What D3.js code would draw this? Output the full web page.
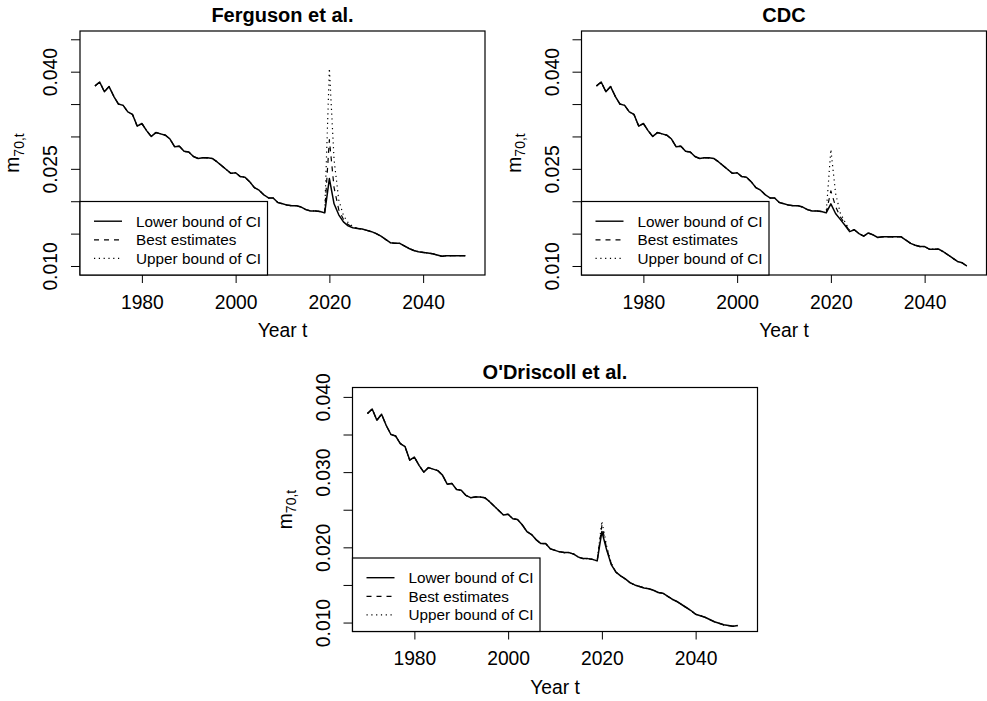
<!DOCTYPE html>
<html>
<head>
<meta charset="utf-8">
<script src="https://cdn.jsdelivr.net/npm/d3@7"></script>
<style>
  html, body { margin: 0; padding: 0; background: #fff; }
  svg { display: block; font-family: "Liberation Sans", Arial, Helvetica, sans-serif; }
</style>
</head>
<body>
<svg id="chart" width="987" height="701"></svg>
<script>
// ---- data -------------------------------------------------------------
const years = d3.range(1970, 2050);

// observed central death rate at age 70, 1970-2019 (shared by all panels)
const observed = [
  0.0378, 0.0384, 0.0369, 0.0377, 0.0362, 0.0350, 0.0348, 0.0338, 0.0334, 0.0316,
  0.0320, 0.0309, 0.0300, 0.0306, 0.0304, 0.0302, 0.0296, 0.0284, 0.0285, 0.0277,
  0.0276, 0.0269, 0.0266, 0.0267, 0.0267, 0.0266, 0.0261, 0.0255, 0.0249, 0.0243,
  0.0244, 0.0238, 0.0237, 0.0230, 0.0221, 0.0217, 0.0210, 0.0205, 0.0205, 0.0198,
  0.0196, 0.0194, 0.0193, 0.0193, 0.0191, 0.0187, 0.0185, 0.0185, 0.0184, 0.0182
];

// projections 2020-2049
const fergusonLower = [
  0.0235, 0.0196, 0.0179, 0.0168, 0.0162, 0.0159, 0.0158, 0.0157, 0.0155, 0.0153,
  0.0150, 0.0146, 0.0141, 0.0136, 0.0135, 0.0135, 0.0131, 0.0127, 0.0124, 0.0122,
  0.0121, 0.0120, 0.0119, 0.0117, 0.0115, 0.0116, 0.0116, 0.0116, 0.0116, 0.0116
];
const fergusonBest = [
  0.0295, 0.0221, 0.0187, 0.0172, 0.0164, 0.0160, 0.0158, 0.0157, 0.0155, 0.0153,
  0.0150, 0.0146, 0.0141, 0.0136, 0.0135, 0.0135, 0.0131, 0.0127, 0.0124, 0.0122,
  0.0121, 0.0120, 0.0119, 0.0117, 0.0115, 0.0116, 0.0116, 0.0116, 0.0116, 0.0116
];
const fergusonUpper = [
  0.0405, 0.0264, 0.0202, 0.0178, 0.0167, 0.0161, 0.0158, 0.0157, 0.0155, 0.0153,
  0.0150, 0.0146, 0.0141, 0.0136, 0.0135, 0.0135, 0.0131, 0.0127, 0.0124, 0.0122,
  0.0121, 0.0120, 0.0119, 0.0117, 0.0115, 0.0116, 0.0116, 0.0116, 0.0116, 0.0116
];

const cdcLower = [
  0.0196, 0.0181, 0.0172, 0.0163, 0.0153, 0.0156, 0.0150, 0.0146, 0.0151, 0.0148,
  0.0144, 0.0145, 0.0145, 0.0145, 0.0145, 0.0145, 0.0140, 0.0135, 0.0132, 0.0130,
  0.0130, 0.0126, 0.0126, 0.0126, 0.0122, 0.0117, 0.0112, 0.0107, 0.0105, 0.0100
];
const cdcBest = [
  0.0216, 0.0192, 0.0176, 0.0165, 0.0154, 0.0156, 0.0150, 0.0146, 0.0151, 0.0148,
  0.0144, 0.0145, 0.0145, 0.0145, 0.0145, 0.0145, 0.0140, 0.0135, 0.0132, 0.0130,
  0.0130, 0.0126, 0.0126, 0.0126, 0.0122, 0.0117, 0.0112, 0.0107, 0.0105, 0.0100
];
const cdcUpper = [
  0.0280, 0.0212, 0.0182, 0.0168, 0.0155, 0.0156, 0.0150, 0.0146, 0.0151, 0.0148,
  0.0144, 0.0145, 0.0145, 0.0145, 0.0145, 0.0145, 0.0140, 0.0135, 0.0132, 0.0130,
  0.0130, 0.0126, 0.0126, 0.0126, 0.0122, 0.0117, 0.0112, 0.0107, 0.0105, 0.0100
];

const odriscollLower = [
  0.0221, 0.0197, 0.0177, 0.0167, 0.0162, 0.0158, 0.0153, 0.0150, 0.0148, 0.0146,
  0.0145, 0.0143, 0.0140, 0.0139, 0.0135, 0.0131, 0.0128, 0.0124, 0.0120, 0.0116,
  0.0111, 0.0109, 0.0107, 0.0104, 0.0101, 0.0099, 0.0097, 0.0096, 0.0095, 0.0096
];
const odriscollBest = [
  0.0229, 0.0199, 0.0178, 0.0167, 0.0162, 0.0158, 0.0153, 0.0150, 0.0148, 0.0146,
  0.0145, 0.0143, 0.0140, 0.0139, 0.0135, 0.0131, 0.0128, 0.0124, 0.0120, 0.0116,
  0.0111, 0.0109, 0.0107, 0.0104, 0.0101, 0.0099, 0.0097, 0.0096, 0.0095, 0.0096
];
const odriscollUpper = [
  0.0235, 0.0202, 0.0179, 0.0167, 0.0162, 0.0158, 0.0153, 0.0150, 0.0148, 0.0146,
  0.0145, 0.0143, 0.0140, 0.0139, 0.0135, 0.0131, 0.0128, 0.0124, 0.0120, 0.0116,
  0.0111, 0.0109, 0.0107, 0.0104, 0.0101, 0.0099, 0.0097, 0.0096, 0.0095, 0.0096
];

const panelTitles = ["Ferguson et al.", "CDC", "O'Driscoll et al."];
const legendLabels = ["Lower bound of CI", "Best estimates", "Upper bound of CI"];
const xTickValues = [1980, 2000, 2020, 2040];
const yTicksTop = [0.010, 0.015, 0.020, 0.025, 0.030, 0.035, 0.040, 0.045];
const yLabelsTop = ["0.010", "0.025", "0.040"];
const yTicksBottom = [0.010, 0.015, 0.020, 0.025, 0.030, 0.035, 0.040];
const yLabelsBottom = ["0.010", "0.020", "0.030", "0.040"];

// ---- layout -----------------------------------------------------------
const W = 405, H = 244;
const xDomain = [1966.8, 2053.2];
const panels = [
  { title: panelTitles[0], series: [fergusonLower, fergusonBest, fergusonUpper],
    left: 80, top: 31, yDomain: [0.00861, 0.04628], ticks: yTicksTop, labels: yLabelsTop },
  { title: panelTitles[1], series: [cdcLower, cdcBest, cdcUpper],
    left: 581.5, top: 31, yDomain: [0.00861, 0.04628], ticks: yTicksTop, labels: yLabelsTop },
  { title: panelTitles[2], series: [odriscollLower, odriscollBest, odriscollUpper],
    left: 352.5, top: 387.5, yDomain: [0.00881, 0.04125], ticks: yTicksBottom, labels: yLabelsBottom }
];
const dashes = [null, "5,5", "1.2,3.6"];
const FONT = "\"Liberation Sans\", Arial, Helvetica, sans-serif";
const AXIS_SIZE = 19.3;

const svg = d3.select("#chart");

panels.forEach(p => {
  const g = svg.append("g").attr("transform", `translate(${p.left},${p.top})`);
  const x = d3.scaleLinear().domain(xDomain).range([0, W]);
  const y = d3.scaleLinear().domain(p.yDomain).range([H, 0]);

  // series: upper (dotted), best (dashed), lower (solid)
  const line = d3.line().x((d, i) => x(years[i])).y(d => y(d));
  [2, 1, 0].forEach(k => {
    const values = observed.concat(p.series[k]);
    g.append("path")
      .datum(values)
      .attr("d", line)
      .attr("fill", "none")
      .attr("stroke", "#000")
      .attr("stroke-width", k === 0 ? 1.5 : 1.2)
      .attr("stroke-linejoin", "round")
      .attr("stroke-dasharray", dashes[k]);
  });

  // x axis
  const xa = g.append("g")
    .attr("transform", `translate(0,${H})`)
    .call(d3.axisBottom(x).tickValues(xTickValues).tickSize(8).tickSizeOuter(0)
      .tickPadding(12).tickFormat(d3.format("d")));
  xa.select(".domain").remove();
  xa.selectAll("line").attr("stroke", "#000");
  xa.selectAll("text").attr("fill", "#000");
  xa.attr("font-size", AXIS_SIZE).attr("font-family", FONT);

  // y axis
  const ya = g.append("g")
    .call(d3.axisLeft(y).tickValues(p.ticks).tickSize(9).tickSizeOuter(0)
      .tickFormat(d => { const s = d3.format(".3f")(d); return p.labels.includes(s) ? s : ""; }));
  ya.select(".domain").remove();
  ya.selectAll("line").attr("stroke", "#000");
  ya.selectAll("text")
    .attr("x", null).attr("dy", null)
    .attr("transform", "translate(-23,0) rotate(-90)")
    .attr("text-anchor", "middle")
    .attr("fill", "#000");
  ya.attr("font-size", AXIS_SIZE).attr("font-family", FONT);

  // frame
  g.append("rect")
    .attr("x", 0).attr("y", 0).attr("width", W).attr("height", H)
    .attr("fill", "none").attr("stroke", "#000").attr("stroke-width", 1.2);

  // title
  g.append("text")
    .attr("x", W / 2).attr("y", -9)
    .attr("text-anchor", "middle")
    .attr("font-size", 20).attr("font-weight", "bold")
    .text(p.title);

  // x label
  g.append("text")
    .attr("x", W / 2).attr("y", H + 62)
    .attr("text-anchor", "middle")
    .attr("font-size", AXIS_SIZE)
    .text("Year t");

  // y label m_{70,t}
  const yl = g.append("text")
    .attr("transform", `translate(-61,${H / 2}) rotate(-90)`)
    .attr("text-anchor", "middle")
    .attr("font-size", AXIS_SIZE);
  yl.append("tspan").text("m");
  yl.append("tspan").attr("font-size", 14).attr("dy", "0.35em").text("70,t");

  // legend
  const lw = 187.5, lh = 73.5;
  const lg = g.append("g").attr("transform", `translate(0,${H - lh})`);
  lg.append("rect").attr("width", lw).attr("height", lh)
    .attr("fill", "#fff").attr("stroke", "#000").attr("stroke-width", 1.2);
  legendLabels.forEach((lab, k) => {
    const ry = 19.7 + k * 18.6;
    lg.append("line")
      .attr("x1", 14).attr("x2", 42).attr("y1", ry).attr("y2", ry)
      .attr("stroke", "#000").attr("stroke-width", k === 0 ? 1.4 : 1.2)
      .attr("stroke-dasharray", dashes[k]);
    lg.append("text")
      .attr("x", 56).attr("y", ry).attr("dy", "0.36em")
      .attr("font-size", 15.3)
      .text(lab);
  });
});
</script>
</body>
</html>
